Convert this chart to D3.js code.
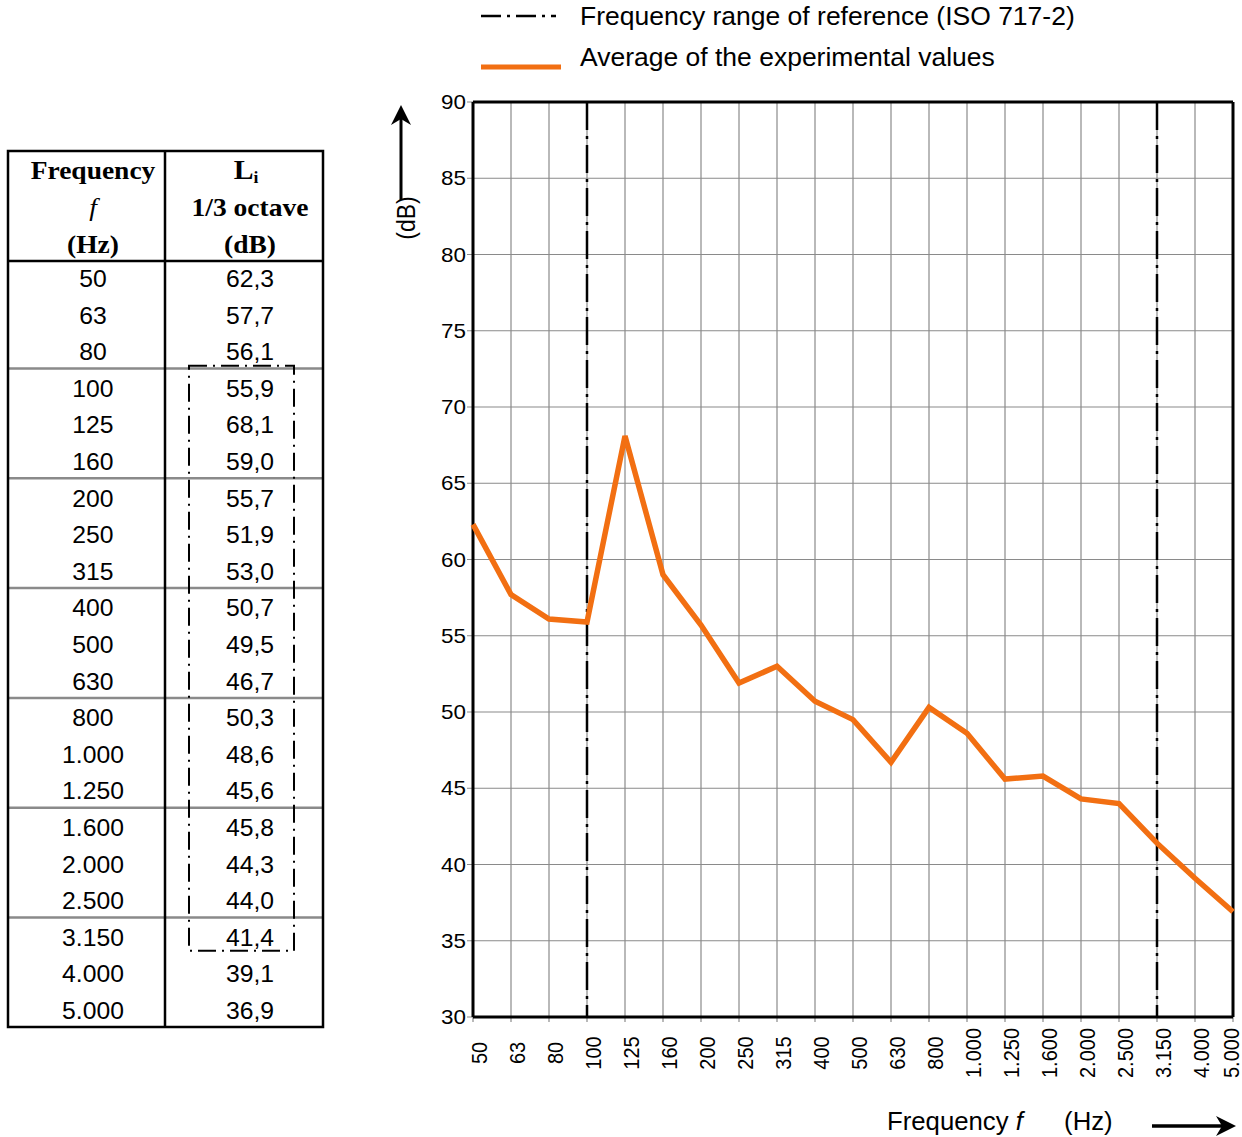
<!DOCTYPE html>
<html>
<head>
<meta charset="utf-8">
<script src="https://cdn.jsdelivr.net/npm/d3@7"></script>
<style>
  html, body { margin: 0; padding: 0; background: #fff; }
  svg { display: block; }
</style>
</head>
<body>
<div id="chart"></div>
<script>
// dados
const frequencias = ["50", "63", "80", "100", "125", "160", "200", "250", "315", "400", "500",
  "630", "800", "1.000", "1.250", "1.600", "2.000", "2.500", "3.150", "4.000", "5.000"];
const niveis = [62.3, 57.7, 56.1, 55.9, 68.1, 59.0, 55.7, 51.9, 53.0, 50.7, 49.5,
  46.7, 50.3, 48.6, 45.6, 45.8, 44.3, 44.0, 41.4, 39.1, 36.9];
const ticksY = [30, 35, 40, 45, 50, 55, 60, 65, 70, 75, 80, 85, 90];
const faixaReferencia = ["100", "3.150"];
const quebrasGrupo = ["80", "160", "315", "630", "1.250", "2.500"];
const legendaTextos = ["Frequency range of reference (ISO 717-2)", "Average of the experimental values"];

const LARANJA = "#f26f12";
const CINZA = "#8a8a8a";
const SANS = "'Liberation Sans', Arial, sans-serif";
const SERIF = "'Liberation Serif', 'Times New Roman', serif";

const width = 1242;
const height = 1137;

const svg = d3.select("#chart")
  .append("svg")
  .attr("width", width)
  .attr("height", height);

// texto com esticamento horizontal (a imagem original é esticada)
const texto = (g, x, y, str, o = {}) => {
  const sx = o.sx || 1;
  const rot = o.rotate ? ` rotate(${o.rotate})` : "";
  const sc = o.rotate ? `scale(1,${sx})` : `scale(${sx},1)`;
  return g.append("text")
    .attr("transform", `translate(${x},${y})${rot} ${sc}`)
    .attr("font-family", o.family || SANS)
    .attr("font-size", o.size || 20)
    .attr("font-weight", o.weight || "normal")
    .attr("font-style", o.style || "normal")
    .attr("text-anchor", o.anchor || "start")
    .attr("fill", "#000")
    .text(str);
};

// ---------- tabela ----------
const tabela = svg.append("g");
const colX = [8, 165, 323];
const colCentro = [93, 250];
const topo = 151, cabecalhoFim = 261, base = 1027;

const linha = d3.scalePoint().domain(frequencias).range([277, 1009]);
const fmtNivel = (v) => d3.format(".1f")(v).replace(".", ",");

// separadores cinza entre grupos
tabela.selectAll(".sep")
  .data(quebrasGrupo)
  .enter()
  .append("line")
  .attr("x1", colX[0]).attr("x2", colX[2])
  .attr("y1", (d) => linha(d) + linha.step() / 2)
  .attr("y2", (d) => linha(d) + linha.step() / 2)
  .attr("stroke", CINZA)
  .attr("stroke-width", 2.5);

// bordas
tabela.append("rect")
  .attr("x", colX[0]).attr("y", topo)
  .attr("width", colX[2] - colX[0]).attr("height", base - topo)
  .attr("fill", "none").attr("stroke", "#000").attr("stroke-width", 2.5);
tabela.append("line")
  .attr("x1", colX[1]).attr("x2", colX[1]).attr("y1", topo).attr("y2", base)
  .attr("stroke", "#000").attr("stroke-width", 2.5);
tabela.append("line")
  .attr("x1", colX[0]).attr("x2", colX[2]).attr("y1", cabecalhoFim).attr("y2", cabecalhoFim)
  .attr("stroke", "#000").attr("stroke-width", 2.5);

// cabeçalho
const cab = { family: SERIF, size: 25, weight: "bold", anchor: "middle", sx: 1.1 };
texto(tabela, colCentro[0], 179, "Frequency", cab);
texto(tabela, colCentro[0], 216, "f", Object.assign({}, cab, { style: "italic", weight: "normal" }));
texto(tabela, colCentro[0], 253, "(Hz)", cab);
const li = texto(tabela, colCentro[1] - 4, 179, "L", Object.assign({}, cab, { size: 27 }));
li.append("tspan").attr("font-size", 16).attr("dy", 4).text("i");
texto(tabela, colCentro[1], 216, "1/3 octave", cab);
texto(tabela, colCentro[1], 253, "(dB)", cab);

// valores
frequencias.forEach((f, i) => {
  texto(tabela, colCentro[0], linha(f) + 10, f, { size: 24, anchor: "middle", sx: 1.03 });
  texto(tabela, colCentro[1], linha(f) + 10, fmtNivel(niveis[i]), { size: 24, anchor: "middle", sx: 1.03 });
});

// caixa traço-ponto da faixa de referência
tabela.append("rect")
  .attr("x", 189)
  .attr("y", linha(faixaReferencia[0]) - 21)
  .attr("width", 105)
  .attr("height", linha(faixaReferencia[1]) - linha(faixaReferencia[0]) + 36)
  .attr("fill", "none")
  .attr("stroke", "#000")
  .attr("stroke-width", 2)
  .attr("stroke-dasharray", "18,6,2,6");

// ---------- gráfico ----------
const x = d3.scalePoint().domain(frequencias).range([473, 1233]);
const y = d3.scaleLinear().domain([30, 90]).range([1017, 102]);

const grafico = svg.append("g");

// grade
grafico.append("g")
  .selectAll("line")
  .data(ticksY)
  .enter()
  .append("line")
  .attr("x1", x.range()[0] - 6).attr("x2", x.range()[1])
  .attr("y1", (d) => y(d)).attr("y2", (d) => y(d))
  .attr("stroke", CINZA).attr("stroke-width", 1.2);

grafico.append("g")
  .selectAll("line")
  .data(frequencias)
  .enter()
  .append("line")
  .attr("x1", (d) => x(d)).attr("x2", (d) => x(d))
  .attr("y1", y(90)).attr("y2", y(30) + 5)
  .attr("stroke", CINZA).attr("stroke-width", 1.2);

// linhas de referência
grafico.append("g")
  .selectAll("line")
  .data(faixaReferencia)
  .enter()
  .append("line")
  .attr("x1", (d) => x(d)).attr("x2", (d) => x(d))
  .attr("y1", y(90)).attr("y2", y(30))
  .attr("stroke", "#000")
  .attr("stroke-width", 2.5)
  .attr("stroke-dasharray", "28,6,3,6");

// moldura
const moldura = grafico.append("g").attr("stroke", "#000").attr("stroke-width", 3).attr("fill", "none");
moldura.append("line").attr("x1", x.range()[0]).attr("x2", x.range()[1]).attr("y1", y(90)).attr("y2", y(90));
moldura.append("line").attr("x1", x.range()[0]).attr("x2", x.range()[1]).attr("y1", y(30)).attr("y2", y(30));
moldura.append("line").attr("x1", x.range()[0]).attr("x2", x.range()[0]).attr("y1", y(90)).attr("y2", y(30));
moldura.append("line").attr("x1", x.range()[1]).attr("x2", x.range()[1]).attr("y1", y(90)).attr("y2", y(30));

// série
const linhaSerie = d3.line()
  .x((d, i) => x(frequencias[i]))
  .y((d) => y(d));

grafico.append("path")
  .datum(niveis)
  .attr("d", linhaSerie)
  .attr("fill", "none")
  .attr("stroke", LARANJA)
  .attr("stroke-width", 5.5)
  .attr("stroke-linejoin", "miter");

// rótulos do eixo y
ticksY.forEach((t) => {
  texto(grafico, x.range()[0] - 7, y(t) + 7, t, { size: 20, anchor: "end", sx: 1.12 });
});

// rótulos do eixo x (rotacionados)
frequencias.forEach((f) => {
  texto(grafico, Math.min(x(f) + 14, width - 3), 1053, f, { size: 20, anchor: "middle", rotate: -90, sx: 1.12 });
});

// título eixo y + seta
grafico.append("line")
  .attr("x1", 401).attr("x2", 401).attr("y1", 200).attr("y2", 115)
  .attr("stroke", "#000").attr("stroke-width", 3);
grafico.append("path")
  .attr("d", "M401,105 L391,125 L401,119 L411,125 Z")
  .attr("fill", "#000");
texto(grafico, 415, 218, "(dB)", { size: 23, anchor: "middle", rotate: -90, sx: 1.1 });

// título eixo x + seta
const tx = texto(grafico, 887, 1130, "Frequency ", { size: 25, sx: 1.03 });
tx.append("tspan").attr("font-style", "italic").text("f");
tx.append("tspan").attr("dx", 40).text("(Hz)");
grafico.append("line")
  .attr("x1", 1152).attr("x2", 1224).attr("y1", 1126).attr("y2", 1126)
  .attr("stroke", "#000").attr("stroke-width", 3.5);
grafico.append("path")
  .attr("d", "M1236,1126 L1216,1116 L1222,1126 L1216,1136 Z")
  .attr("fill", "#000");

// ---------- legenda ----------
const legenda = svg.append("g");
legenda.append("line")
  .attr("x1", 481).attr("x2", 556).attr("y1", 16).attr("y2", 16)
  .attr("stroke", "#000").attr("stroke-width", 2.5)
  .attr("stroke-dasharray", "20,6,3,6");
legenda.append("line")
  .attr("x1", 481).attr("x2", 561).attr("y1", 67).attr("y2", 67)
  .attr("stroke", LARANJA).attr("stroke-width", 5);
texto(legenda, 580, 25, legendaTextos[0], { size: 25, sx: 1.06 });
texto(legenda, 580, 66, legendaTextos[1], { size: 25, sx: 1.06 });
</script>
</body>
</html>
